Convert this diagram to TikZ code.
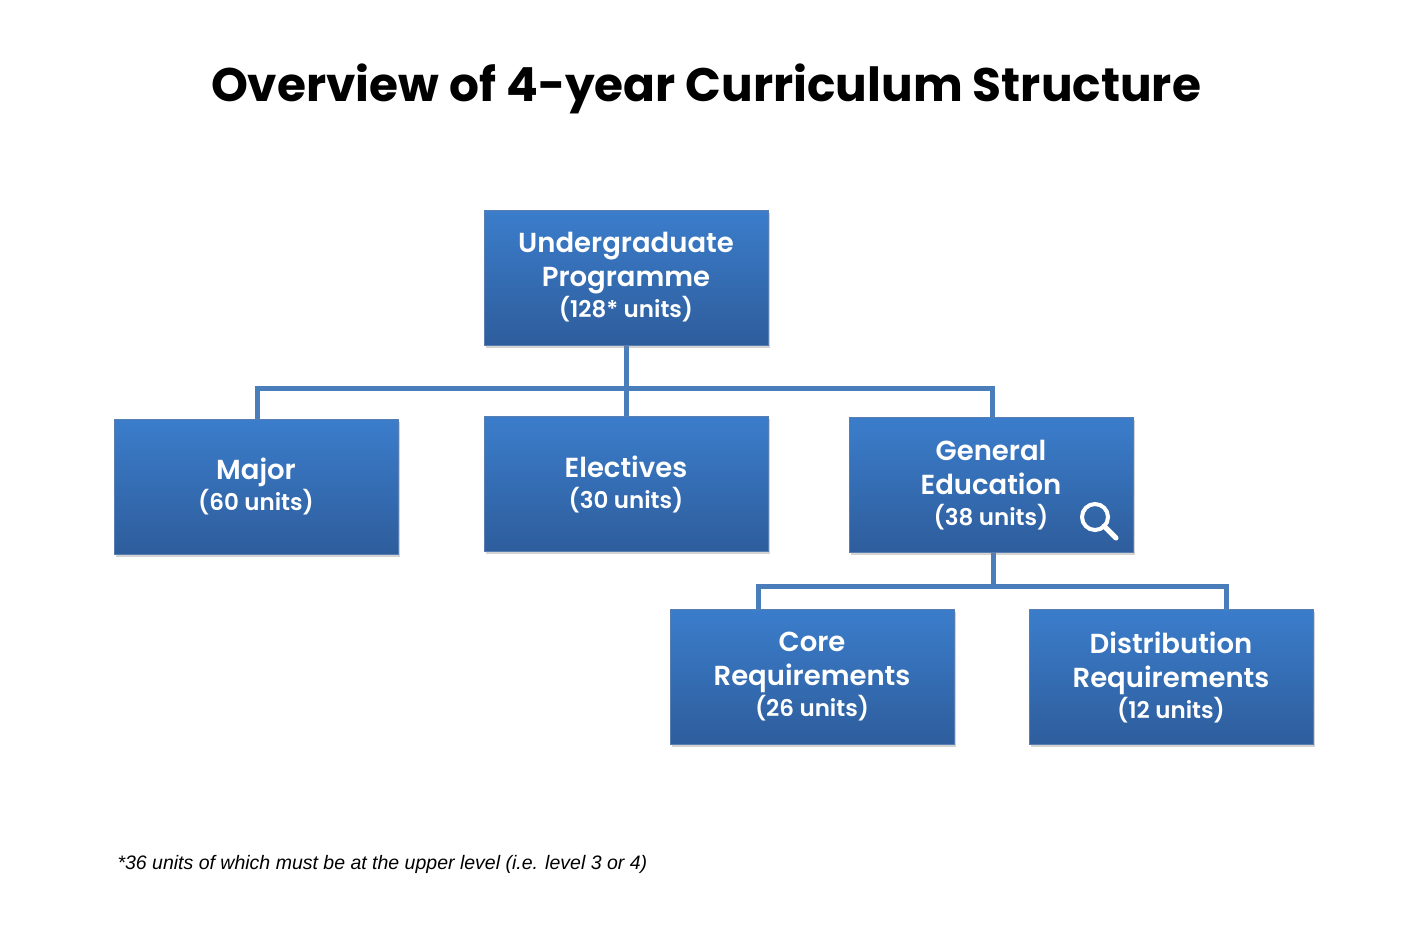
\documentclass[tikz,border=0pt]{standalone}
\usepackage{fontspec}
\setmainfont{Poppins}[BoldFont={Poppins SemiBold}]
\newfontfamily\titlefont{Poppins Bold}
\newfontfamily\footfont{Liberation Sans}
\usetikzlibrary{shadows,calc}
\definecolor{btop}{HTML}{3B7DCB}
\definecolor{bbot}{HTML}{2E5D9C}
\definecolor{lnk}{HTML}{4A7EBB}
\newcommand\unitsz{\fontsize{23}{24}\selectfont}
\begin{document}
\begin{tikzpicture}[x=1pt,y=-1pt,
  box/.style={minimum width=284pt,minimum height=135pt,top color=btop,bottom color=bbot,draw=bbot!80!white,line width=0.6pt,
    text=white,font=\bfseries\fontsize{27.5}{34}\selectfont,align=center,
    drop shadow={shadow xshift=1.5pt,shadow yshift=-2.5pt,opacity=0.35}},
  lk/.style={draw=lnk,line width=5pt}]
\useasboundingbox (0,0) rectangle (1412,938);
\node[font=\titlefont\fontsize{47}{52}\selectfont] (title) at (706,89) {Overview of 4-year Curriculum Structure};
\draw[lk] (626,345) -- (626,416);
\draw[lk] (257,419) -- (257,388) -- (992,388) -- (992,417);
\draw[lk] (993,552) -- (993,586);
\draw[lk] (758,609) -- (758,586) -- (1226,586) -- (1226,609);
\node[box] (ug) at (626,277.5) {Undergraduate\\Programme\\[-3pt]{\unitsz (128* units)}};
\node[box] (maj) at (256,486.5) {Major\\[-3pt]{\unitsz (60 units)}};
\node[box] (ele) at (626,484) {Electives\\[-3pt]{\unitsz (30 units)}};
\node[box] (ge) at (991,485) {General\\Education\\[-3pt]{\unitsz (38 units)}};
\node[box] (core) at (812,677) {Core\\Requirements\\[-3pt]{\unitsz (26 units)}};
\node[box] (dist) at (1171,677) {Distribution\\Requirements\\[-3pt]{\unitsz (12 units)}};
\coordinate (m) at (1095,517);
\draw[white,line width=4pt] (m) circle (13);
\draw[white,line width=5pt,line cap=round] ($(m)+(9,9)$) -- ($(m)+(21,21)$);
\node[anchor=west,font=\footfont\itshape\fontsize{19.5}{22}\selectfont] (fn) at (114,864) {*36 units of which must be at the upper level (i.e. level 3 or 4)};
\end{tikzpicture}
\end{document}
